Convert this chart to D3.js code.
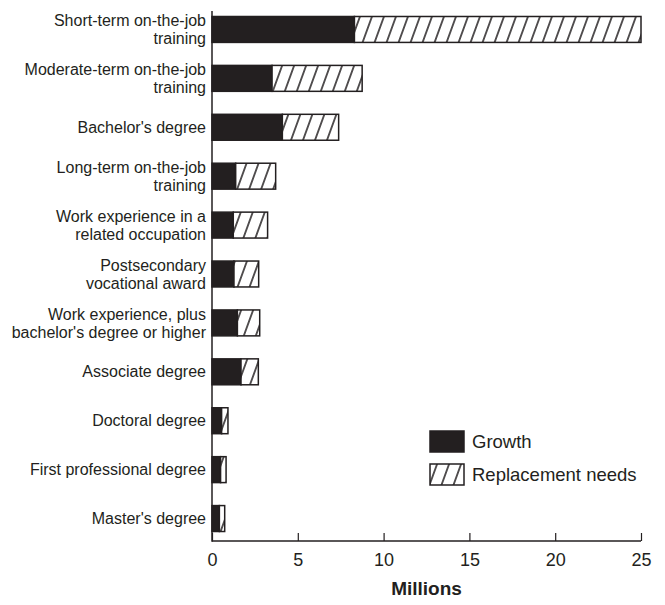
<!DOCTYPE html>
<html><head><meta charset="utf-8">
<script src="https://cdn.jsdelivr.net/npm/d3@7/dist/d3.min.js"></script>
<style>
html,body{margin:0;padding:0;background:#fff;}
text{font-family:"Liberation Sans",Arial,sans-serif;fill:#231f20;}
</style></head>
<body>
<svg id="chart" width="665" height="605"></svg>
<script>
const categories = [
  ["Short-term on-the-job","training"],
  ["Moderate-term on-the-job","training"],
  ["Bachelor's degree"],
  ["Long-term on-the-job","training"],
  ["Work experience in a","related occupation"],
  ["Postsecondary","vocational award"],
  ["Work experience, plus","bachelor's degree or higher"],
  ["Associate degree"],
  ["Doctoral degree"],
  ["First professional degree"],
  ["Master's degree"]
];
const growth      = [8.3, 3.5, 4.1, 1.38, 1.24, 1.28, 1.48, 1.69, 0.56, 0.50, 0.43];
const replacement = [16.7, 5.25, 3.28, 2.33, 2.0, 1.44, 1.3, 1.01, 0.37, 0.32, 0.31];
const xTicks = [0, 5, 10, 15, 20, 25];
const seriesNames = ["Growth", "Replacement needs"];
const axisTitle = "Millions";

const ink = "#231f20";
const svg = d3.select("#chart");
const defs = svg.append("defs");
const pat = defs.append("pattern").attr("id","hatch").attr("patternUnits","userSpaceOnUse")
  .attr("width",12).attr("height",12).attr("patternTransform","skewX(-20)");
pat.append("rect").attr("width",12).attr("height",12).attr("fill","#fff");
pat.append("path").attr("d","M6,-1V13").attr("stroke",ink).attr("stroke-width",1.6);

const x = d3.scaleLinear().domain([0,25]).range([212,641]);
const y = d3.scaleBand().domain(d3.range(categories.length)).range([5,543]).paddingInner(0.47).paddingOuter(0.235);

const g = svg.append("g");
const bars = g.selectAll("g.bar").data(categories.map((c,i)=>({c,i,gr:growth[i],rp:replacement[i]}))).join("g");
bars.append("rect").attr("x",d=>x(0)).attr("y",d=>y(d.i)).attr("width",d=>x(d.gr)-x(0)).attr("height",y.bandwidth())
  .attr("fill",ink).attr("stroke",ink).attr("stroke-width",1.5);
bars.append("rect").attr("x",d=>x(d.gr)).attr("y",d=>y(d.i)).attr("width",d=>x(d.gr+d.rp)-x(d.gr)).attr("height",y.bandwidth())
  .attr("fill","url(#hatch)").attr("stroke",ink).attr("stroke-width",1.5);

// category labels
bars.each(function(d){
  const t = d3.select(this).append("text").attr("x",206).attr("text-anchor","end").attr("font-size","16px");
  const cy = y(d.i)+y.bandwidth()/2;
  const n = d.c.length;
  d.c.forEach((line,k)=>{
    t.append("tspan").attr("x",206).attr("y",cy + (k-(n-1)/2)*18).attr("dy","0.35em").text(line);
  });
});

// axes
const xAxis = d3.axisBottom(x).tickValues(xTicks).tickSize(-8).tickPadding(10).tickFormat(d3.format("d"));
const ax = svg.append("g").attr("transform","translate(0,541)").call(xAxis);
ax.select(".domain").attr("stroke",ink).attr("stroke-width",1.5).attr("d","M212,0H641");
ax.selectAll(".tick line").attr("stroke",ink).attr("stroke-width",1.2);
ax.selectAll(".tick text").attr("font-size","18px").attr("font-family","Liberation Sans, Arial, sans-serif").attr("fill",ink).attr("dy","0.85em");
svg.append("line").attr("x1",212).attr("x2",212).attr("y1",11).attr("y2",541.75).attr("stroke",ink).attr("stroke-width",1.5);

svg.append("text").attr("x",(x(0)+x(25))/2).attr("y",595).attr("text-anchor","middle")
  .attr("font-size","19px").attr("font-weight","bold").text(axisTitle);

// legend
const lg = svg.append("g");
seriesNames.forEach((s,i)=>{
  const yy = 431 + i*33;
  lg.append("rect").attr("x",430).attr("y",yy).attr("width",34).attr("height",21)
    .attr("fill", i===0?ink:"url(#hatch)").attr("stroke",ink).attr("stroke-width",1.5);
  lg.append("text").attr("x",472).attr("y",yy+10.5).attr("dy","0.35em").attr("font-size","18.5px").text(s);
});
</script>
</body></html>
